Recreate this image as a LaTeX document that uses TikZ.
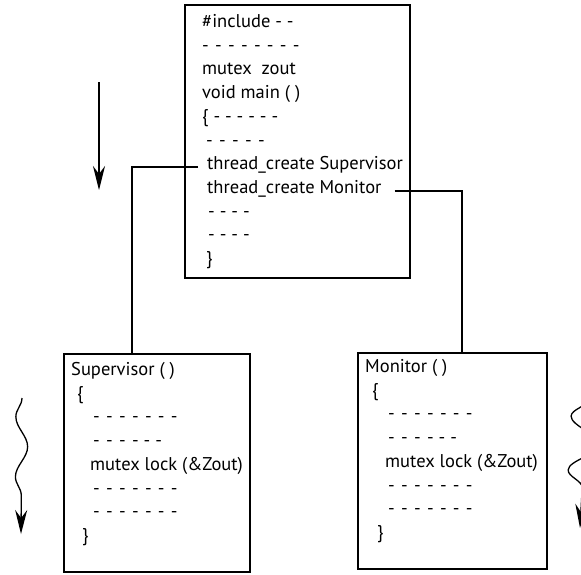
\documentclass[tikz,border=0pt]{standalone}
\usepackage{fontspec}
\setmainfont{PT Sans}
\usetikzlibrary{positioning,arrows.meta,decorations.pathmorphing}
\newcommand{\dashrow}[1]{-\foreach \k in {2,...,#1}{\hspace{6.3pt}-}}

\begin{document}
\begin{tikzpicture}[x=1pt, y=-1pt,
    box/.style={draw, line width=1.5pt, anchor=north west, inner sep=0pt},
    code/.style={font=\fontsize{18.5}{22}\selectfont, inner sep=0pt, text height=14pt, text depth=4.5pt},
    link/.style={line width=1.5pt},
    flow/.style={line width=1.3pt, -{Stealth[length=24pt, width=12pt, inset=8pt]}},
    wave/.style={decorate, decoration={snake, mirror, amplitude=#1, segment length=60pt, post length=34pt}}]
  \useasboundingbox (0,0) rectangle (581,574);

  \node[box, minimum width=225pt, minimum height=273pt] (mainbox) at (184,4) {};
  \node[code, anchor=mid west] (m1) at (202,25) {\#include - -};
  \node[code, below right=4.8pt and 0pt of m1.south west] (m2) {\dashrow{8}};
  \node[code, below right=4.8pt and 0pt of m2.south west] (m3) {mutex\ \ zout};
  \node[code, below right=4.8pt and 0pt of m3.south west] (m4) {void main ( )};
  \node[code, below right=4.8pt and 0pt of m4.south west] (m5) {\{ - - - - - -};
  \node[code, below right=4.8pt and 4pt of m5.south west] (m6) {\dashrow{5}};
  \node[code, below right=4.8pt and 1pt of m6.south west] (tsup) {thread\_create Supervisor};
  \node[code, below right=4.8pt and 0pt of tsup.south west] (tmon) {thread\_create Monitor};
  \node[code, below right=4.8pt and 1pt of tmon.south west] (m9) {- - - -};
  \node[code, below right=4.8pt and 0pt of m9.south west] (m10) {- - - -};
  \node[code, below right=4.8pt and -2pt of m10.south west] (m11) {\}};

  \node[box, minimum width=186pt, minimum height=218pt] (supbox) at (63,353) {};
  \node[code, anchor=mid west] (s1) at (71,373) {Supervisor ( )};
  \node[code, below right=4.8pt and 6pt of s1.south west] (s2) {\{};
  \node[code, below right=4.8pt and 16pt of s2.south west] (s3) {\dashrow{7}};
  \node[code, below right=4.8pt and 0pt of s3.south west] (s4) {\dashrow{4} - -};
  \node[code, below right=4.8pt and -3pt of s4.south west] (s5) {mutex lock (\&Zout)};
  \node[code, below right=4.8pt and 3pt of s5.south west] (s6) {\dashrow{7}};
  \node[code, below right=4.8pt and 0pt of s6.south west] (s7) {\dashrow{7}};
  \node[code, below right=4.8pt and -11pt of s7.south west] (s8) {\}};

  \node[box, minimum width=189pt, minimum height=216pt] (monbox) at (357,352) {};
  \node[code, anchor=mid west] (n1) at (365,370) {Monitor ( )};
  \node[code, below right=4.8pt and 7pt of n1.south west] (n2) {\{};
  \node[code, below right=4.8pt and 16pt of n2.south west] (n3) {\dashrow{7}};
  \node[code, below right=4.8pt and 0pt of n3.south west] (n4) {\dashrow{4} - -};
  \node[code, below right=4.8pt and -3pt of n4.south west] (n5) {mutex lock (\&Zout)};
  \node[code, below right=4.8pt and 3pt of n5.south west] (n6) {\dashrow{7}};
  \node[code, below right=4.8pt and 0pt of n6.south west] (n7) {\dashrow{7}};
  \node[code, below right=4.8pt and -11pt of n7.south west] (n8) {\}};

  \draw[link] ([xshift=-9pt]tsup.mid west) -| ([xshift=-25pt]supbox.north);
  \draw[link] ([xshift=13pt]tmon.mid east) -| ([xshift=9.5pt]monbox.north);

  \coordinate (a1) at (99,82);
  \coordinate (a2) at (99,190);
  \draw[flow] (a1) -- (a2);

  \coordinate (w1) at (22,398);
  \coordinate (w2) at (21,534);
  \draw[flow, wave=6pt] (w1) -- (w2);
  \coordinate (v1) at (587,400);
  \coordinate (v2) at (580,528);
  \draw[flow, wave=15pt, decoration={segment length=54pt, post length=30pt}] (v1) -- (v2);
\end{tikzpicture}
\end{document}
